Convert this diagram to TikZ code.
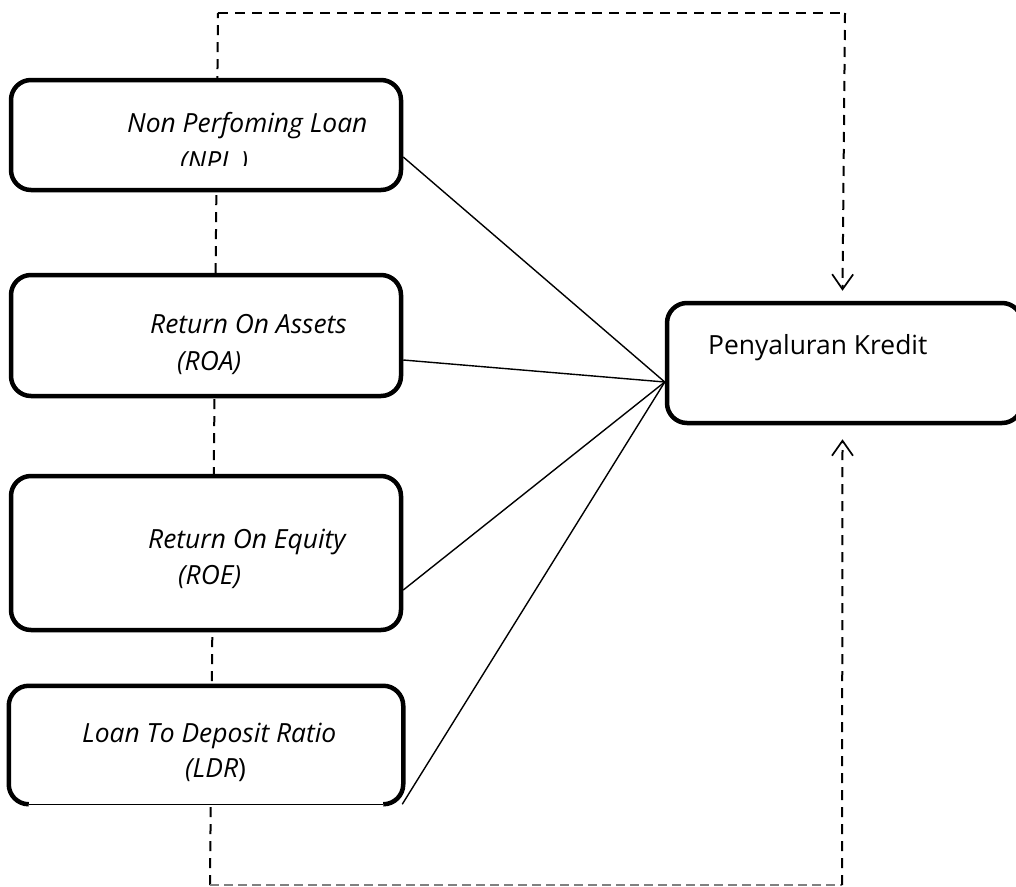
\documentclass[tikz,border=0pt]{standalone}
\usepackage{fontspec}
\setmainfont{Open Sans}
\usetikzlibrary{arrows.meta,calc}
\begin{document}
\begin{tikzpicture}[x=1pt,y=-1pt,
  box/.style={draw,line width=4.5pt,rounded corners=20pt,fill=white,inner sep=0pt,minimum width=390pt},
  lbl/.style={font=\fontsize{26.4}{30}\selectfont\itshape,inner sep=0pt,anchor=base west},
  plain/.style={font=\fontsize{26.4}{30}\selectfont,inner sep=0pt,anchor=base west},
  conn/.style={line width=1.4pt},
  fb/.style={line width=2pt,dash pattern=on 10pt off 7pt},
  fbgray/.style={line width=1.6pt,gray,dash pattern=on 9pt off 5pt},
  tip/.style={-{Straight Barb[length=15pt,width=21pt,line width=1.7pt]}}
]
\useasboundingbox (0,0) rectangle (1016,886);
% feedback dashed lines
\coordinate (tl) at (218,13);
\coordinate (tr) at (845,13);
\coordinate (bl) at (210,885);
\coordinate (br) at (842,885);
\draw[fb] (bl) -- (tl);
\draw[fb] (tl) -- (tr);
\draw[fbgray] (bl) -- (br);
% boxes
\node[box,minimum height=110pt] (npl) at (206,135) {};
\node[box,minimum height=121pt] (roa) at (206,335.5) {};
\node[box,minimum height=154pt] (roe) at (206,553) {};
\node[box,draw=none,rounded corners=0pt,minimum height=114pt] (ldr) at (206,745) {};
\draw[line width=4.5pt,rounded corners=20pt]
  ([xshift=20pt]ldr.south west) -- (ldr.south west) -- (ldr.north west)
  -- (ldr.north east) -- (ldr.south east) -- ([xshift=-20pt]ldr.south east);
\draw[line width=1.3pt] ([xshift=20pt]ldr.south west) -- ([xshift=-20pt]ldr.south east);
\node[box,minimum width=355pt,minimum height=120pt] (pk) at (844.5,363) {};
% arrows into the result box
\draw[fb,tip] (tr) -- ([xshift=-2pt,yshift=10pt]pk.north);
\draw[fb,tip] (br) -- ([xshift=-2pt,yshift=-14pt]pk.south);
% connectors
\draw[conn] ([yshift=-22pt]npl.east) -- ([yshift=-19pt]pk.west);
\draw[conn] ([yshift=-24.5pt]roa.east) -- ([yshift=-19pt]pk.west);
\draw[conn] ([yshift=-37pt]roe.east) -- ([yshift=-19pt]pk.west);
\draw[conn] ([xshift=-1pt]ldr.south east) -- ([yshift=-19pt]pk.west);
% texts
\node[lbl] (npl1) at (127,132) {Non Perfoming Loan};
\begin{scope}
\clip (0,140) rectangle (400,165);
\node[lbl] (npl2) at (180,170) {(NPL )};
\end{scope}
\node[lbl] (roa1) at (150,333) {Return On Assets};
\node[lbl] (roa2) at (177,370) {(ROA)};
\node[lbl] (roe1) at (148,548) {Return On Equity};
\node[lbl] (roe2) at (178,584) {(ROE)};
\node[lbl] (ldr1) at (82,742) {Loan To Deposit Ratio};
\node[lbl] (ldr2) at (185,777) {(LDR\textup{)}};
\node[plain] (pk1) at (708,354) {Penyaluran Kredit};
\end{tikzpicture}
\end{document}
